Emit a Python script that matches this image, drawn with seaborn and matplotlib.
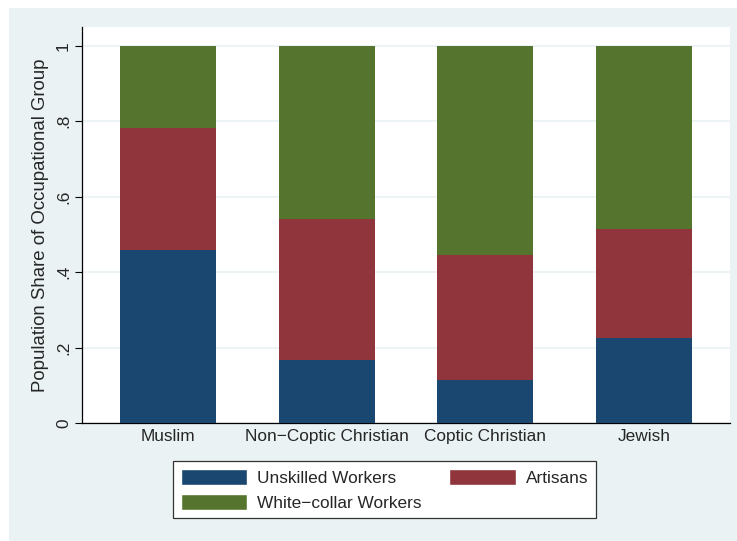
import pandas as pd
import matplotlib.pyplot as plt
import seaborn as sns
from matplotlib.patches import Rectangle, Patch

groups = ['Muslim', 'Non\u2212Coptic Christian', 'Coptic Christian', 'Jewish']
unskilled = [0.459, 0.168, 0.115, 0.226]
artisans = [0.323, 0.372, 0.330, 0.289]
white_collar = [0.218, 0.460, 0.555, 0.485]

navy = '#1a476f'
maroon = '#90353b'
green = '#55752f'
bg = '#eaf2f3'

sns.set_style('white')
plt.rcParams['font.family'] = ['Liberation Sans', 'DejaVu Sans']

df = pd.DataFrame({'group': groups, 'unskilled': unskilled,
                   'artisans': artisans, 'white': white_collar})
# cumulative tops for stacked look
df['top_art'] = df['unskilled'] + df['artisans']
df['top_all'] = df['top_art'] + df['white']

fig = plt.figure(figsize=(7.37, 5.41), dpi=100)
fig.patch.set_facecolor('white')
fig.patches.append(Rectangle((9 / 737, 0), 1, 1 - 8 / 541, transform=fig.transFigure,
                             facecolor=bg, edgecolor='none', zorder=-10))

ax = fig.add_axes([82 / 737, 1 - 423.3 / 541, 648 / 737, 396.3 / 541])
ax.set_facecolor('white')

w = 0.605
sns.barplot(data=df, x='group', y='top_all', color=green, width=w, saturation=1, ax=ax, zorder=2)
sns.barplot(data=df, x='group', y='top_art', color=maroon, width=w, saturation=1, ax=ax, zorder=3)
sns.barplot(data=df, x='group', y='unskilled', color=navy, width=w, saturation=1, ax=ax, zorder=4)
for p in ax.patches:
    p.set_linewidth(0)

ax.set_xlim(-0.542, 3.542)
ax.set_ylim(0, 1.0495)
ax.set_yticks([0, 0.2, 0.4, 0.6, 0.8, 1])
ax.set_yticklabels(['0', '.2', '.4', '.6', '.8', '1'], rotation=90, va='center')
ax.grid(axis='y', color=bg, linewidth=1.2, zorder=0)
ax.set_axisbelow(True)

ax.tick_params(axis='y', length=5, width=0.8, color='black', labelsize=12.4, pad=3, left=True)
ax.tick_params(axis='x', length=0, labelsize=12.4, pad=4)
for s in ['top', 'right']:
    ax.spines[s].set_visible(False)
for s in ['left', 'bottom']:
    ax.spines[s].set_color('black')
    ax.spines[s].set_linewidth(0.9)

ax.set_xlabel('')
ax.set_ylabel('Population Share of Occupational Group', fontsize=13.4, labelpad=5)

handles = [Patch(facecolor=navy, label='Unskilled Workers'),
           Patch(facecolor=green, label='White\u2212collar Workers'),
           Patch(facecolor=maroon, label='Artisans')]
leg = fig.legend(handles=handles, ncol=2, loc='upper left',
                 bbox_to_anchor=(173 / 737, 1 - 461 / 541),
                 fontsize=12.4, frameon=True, fancybox=False, framealpha=1,
                 edgecolor='#333333', handlelength=3.84, handleheight=1.1,
                 handletextpad=0.58, columnspacing=1.63, labelspacing=0.45,
                 borderpad=0.45, borderaxespad=0)
leg.get_frame().set_linewidth(0.9)

fig.savefig('out.png', dpi=100, facecolor=fig.get_facecolor())
